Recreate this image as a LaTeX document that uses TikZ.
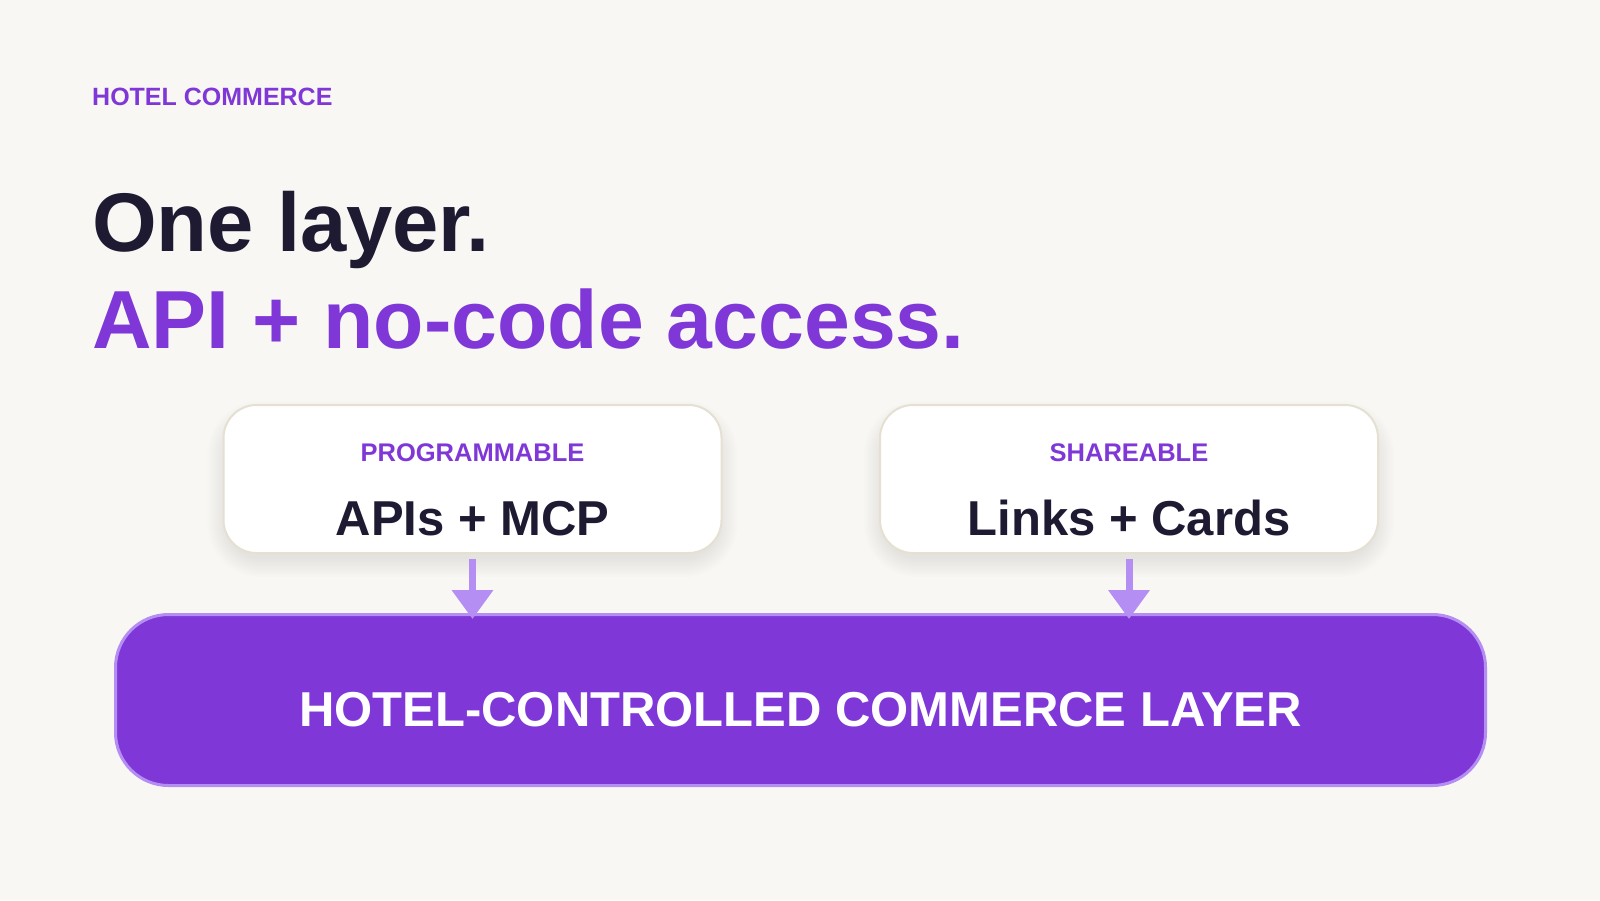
\documentclass[tikz,border=0pt]{standalone}
\usepackage{fontspec}
\setmainfont{Liberation Sans}
\usetikzlibrary{arrows.meta,calc}
\definecolor{bgc}{HTML}{F9F7F3}
\definecolor{purp}{HTML}{7F38D7}
\definecolor{lpurp}{HTML}{B48EF2}
\definecolor{ink}{HTML}{1E1A32}
\definecolor{cardline}{HTML}{E5E0D2}
\tikzset{
  card/.style={draw=cardline, line width=2pt, fill=white, rounded corners=33pt,
    minimum width=498pt, minimum height=148pt, inner sep=0pt},
  layer/.style={draw=lpurp, line width=3pt, fill=purp, rounded corners=53pt,
    minimum width=1370pt, minimum height=171pt, inner sep=0pt},
  kicker/.style={anchor=base, text=purp, font=\fontsize{25.5}{30}\selectfont\bfseries},
  cardtitle/.style={anchor=base, text=ink, font=\fontsize{49}{56}\selectfont\bfseries},
  flow/.style={draw=lpurp, line width=7pt, -{Triangle[width=40pt,length=29pt]}},
  softshadow/.style={fill=black, fill opacity=0.008},
}
\begin{document}
\begin{tikzpicture}[x=1pt,y=-1pt]
\fill[bgc] (0,0) rectangle (1600,900);
\useasboundingbox (0,0) rectangle (1600,900);
\node[anchor=base west, inner sep=0pt, text=purp, font=\fontsize{25}{30}\selectfont\bfseries] (eyebrow) at (92,105) {HOTEL COMMERCE};
\node[anchor=base west, inner sep=0pt, text=ink, font=\fontsize{83.2}{90}\selectfont\bfseries] (h1) at (92,251) {One layer.};
\node[anchor=base west, inner sep=0pt, text=purp, font=\fontsize{82.4}{90}\selectfont\bfseries] (h2) at (92,348) {API + no-code access.};
% soft shadows under cards
\foreach \cx in {472.5,1129}{
  \foreach \s in {2,4,...,20}{
    \fill[softshadow, rounded corners=33pt+\s pt]
      (\cx-249-\s+4, 405-\s+16) rectangle (\cx+249+\s-4, 553+\s+4);
  }
}
\node[card] (c1) at (472.5,479) {};
\node[card] (c2) at (1129,479) {};
\node[kicker] (k1) at (472.5,461) {PROGRAMMABLE};
\node[cardtitle] (t1) at (472.5,535) {APIs + MCP};
\node[kicker] (k2) at (1129,461) {SHAREABLE};
\node[cardtitle] (t2) at (1129,535) {Links + Cards};
\node[layer] (big) at (800.5,700) {};
\node[anchor=base, text=white, font=\fontsize{49}{56}\selectfont\bfseries] (bigt) at (800.5,726) {HOTEL-CONTROLLED COMMERCE LAYER};
\draw[flow] ([yshift=-5pt]c1.south) -- ([yshift=-6pt]c1.south |- big.north);
\draw[flow] ([yshift=-5pt]c2.south) -- ([yshift=-6pt]c2.south |- big.north);
\end{tikzpicture}
\end{document}
